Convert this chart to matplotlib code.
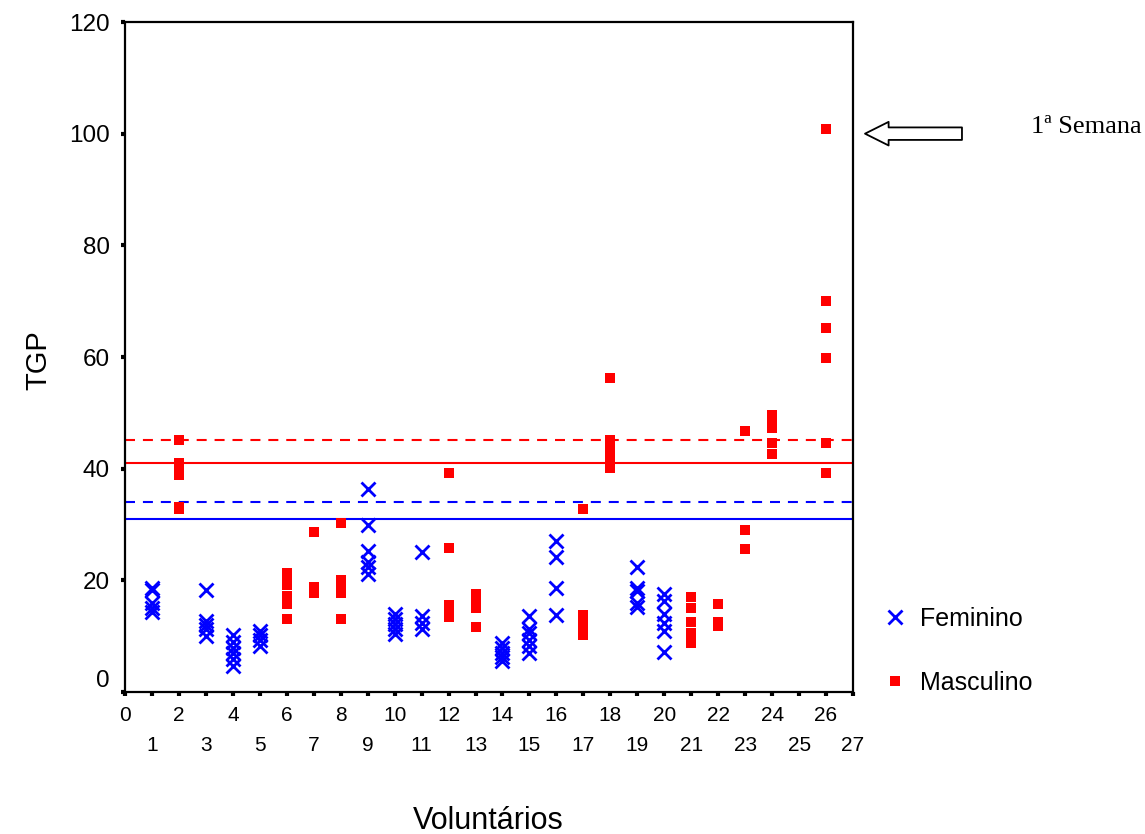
import matplotlib
matplotlib.use("Agg")
import matplotlib.pyplot as plt
from matplotlib.lines import Line2D

# TGP values per volunteer, grouped by sex
fem_ids = [1, 3, 4, 5, 9, 10, 11, 14, 15, 16, 19, 20]
fem_tgp = [
    [18.7, 18.2, 15.9, 15.1, 14.3],
    [18.3, 12.7, 12.0, 11.2, 10.0],
    [10.2, 9.0, 7.8, 7.0, 6.0, 4.7],
    [10.9, 10.2, 9.3, 8.3],
    [36.4, 29.9, 25.3, 23.2, 22.3, 21.1],
    [13.9, 13.0, 12.1, 11.2, 10.4],
    [25.0, 13.6, 12.4, 11.2],
    [8.8, 7.8, 7.0, 6.2, 5.5],
    [13.7, 11.2, 10.6, 9.4, 8.3, 7.0],
    [27.0, 24.1, 18.7, 13.8],
    [22.4, 18.6, 18.1, 15.9, 15.2],
    [17.5, 16.3, 13.9, 12.4, 10.9, 7.2],
]

masc_ids = [2, 6, 7, 8, 12, 13, 17, 18, 21, 22, 23, 24, 26]
masc_tgp = [
    [45.2, 41.0, 40.0, 38.9, 33.2, 32.8],
    [21.3, 20.3, 19.2, 17.2, 15.8, 13.0],
    [28.6, 18.8, 17.8],
    [30.2, 20.0, 18.9, 17.7, 13.0],
    [39.3, 25.8, 15.5, 14.4, 13.4],
    [17.5, 16.4, 15.1, 11.7],
    [32.8, 13.8, 12.6, 11.4, 10.2],
    [56.2, 45.1, 43.9, 42.7, 41.4, 40.2],
    [17.1, 15.0, 12.6, 10.6, 9.6, 8.8],
    [15.8, 12.6, 11.8],
    [46.7, 29.0, 25.7],
    [49.6, 48.5, 47.3, 44.6, 42.6],
    [100.9, 70.1, 65.2, 59.8, 44.6, 39.3],
]

# reference limits (solid) and limit + 10% (dashed)
fem_limit = 31.0
fem_limit_ext = 34.1
masc_limit = 41.0
masc_limit_ext = 45.1

x_ticks = list(range(0, 28))
y_ticks = [0, 20, 40, 60, 80, 100, 120]

BLUE = "#0000FF"
RED = "#FF0000"
SANS = ["Liberation Sans", "DejaVu Sans"]

plt.rcParams["font.family"] = SANS

fig = plt.figure(figsize=(11.45, 8.34), dpi=100)
ax = fig.add_axes([0.10917, 0.17026, 0.6358, 0.80336])

X_STYLE = dict(linestyle="none", marker="x", color=BLUE,
               markersize=9.5, markeredgewidth=2.0)
SQ_STYLE = dict(linestyle="none", marker="s", color=RED,
                markersize=7.0, markeredgewidth=0)

for vid, vals in zip(fem_ids, fem_tgp):
    ax.plot([vid] * len(vals), vals, zorder=3, **X_STYLE)
for vid, vals in zip(masc_ids, masc_tgp):
    ax.plot([vid] * len(vals), vals, zorder=3, **SQ_STYLE)

ax.axhline(masc_limit_ext, color=RED, lw=1.5, dashes=(4.8, 3.8), zorder=2)
ax.axhline(masc_limit, color=RED, lw=1.5, zorder=2)
ax.axhline(fem_limit_ext, color=BLUE, lw=1.5, dashes=(4.8, 3.8), zorder=2)
ax.axhline(fem_limit, color=BLUE, lw=1.5, zorder=2)

ax.set_xlim(0, 27)
ax.set_ylim(0, 120)

for s in ax.spines.values():
    s.set_linewidth(1.6)
    s.set_color("black")

# even volunteer numbers on the first row, odd ones on the second
ax.set_xticks([t for t in x_ticks if t % 2 == 0])
ax.set_xticklabels([str(t) for t in x_ticks if t % 2 == 0])
ax.set_xticks([t for t in x_ticks if t % 2 == 1], minor=True)
ax.set_xticklabels([str(t) for t in x_ticks if t % 2 == 1], minor=True)
ax.tick_params(axis="x", which="both", direction="out", length=3, width=3,
               color="black", labelsize=15)
ax.tick_params(axis="x", which="major", pad=7)
ax.tick_params(axis="x", which="minor", pad=29)

ax.set_yticks(y_ticks)
ax.set_yticklabels([str(t) for t in y_ticks])
ax.tick_params(axis="y", direction="out", length=3, width=3,
               color="black", labelsize=17.5, pad=8)
ax.get_yticklabels()[0].set_verticalalignment("bottom")

fig.text(38 / 1145, 1 - 360 / 834, "TGP", rotation=90, ha="center",
         va="center", fontsize=21)
fig.text(488.5 / 1145, 1 - 829 / 834, "Voluntários", ha="center",
         va="baseline", fontsize=22)

handles = [Line2D([], [], **X_STYLE), Line2D([], [], **SQ_STYLE)]
fig.legend(handles, ["Feminino", "Masculino"], loc="upper left",
           bbox_to_anchor=(882 / 1145, 1 - 607 / 834), frameon=False,
           fontsize=18, handlelength=1.0, handletextpad=0.5,
           labelspacing=1.6, borderpad=0, borderaxespad=0)

# arrow pointing at the week marker level
ax.annotate("", xy=(1.0165, 100), xycoords=("axes fraction", "data"),
            xytext=(1.1497, 100), textcoords=("axes fraction", "data"),
            arrowprops=dict(arrowstyle="simple,head_length=17,head_width=17,tail_width=9",
                            mutation_scale=1, fc="white", ec="black", lw=1.3,
                            shrinkA=0, shrinkB=0),
            annotation_clip=False)
fig.text(1031 / 1145, 1 - 133 / 834, "1ª Semana", ha="left", va="baseline",
         fontsize=19, family=["Liberation Serif", "DejaVu Serif"])

fig.savefig("out.png", dpi=100)
